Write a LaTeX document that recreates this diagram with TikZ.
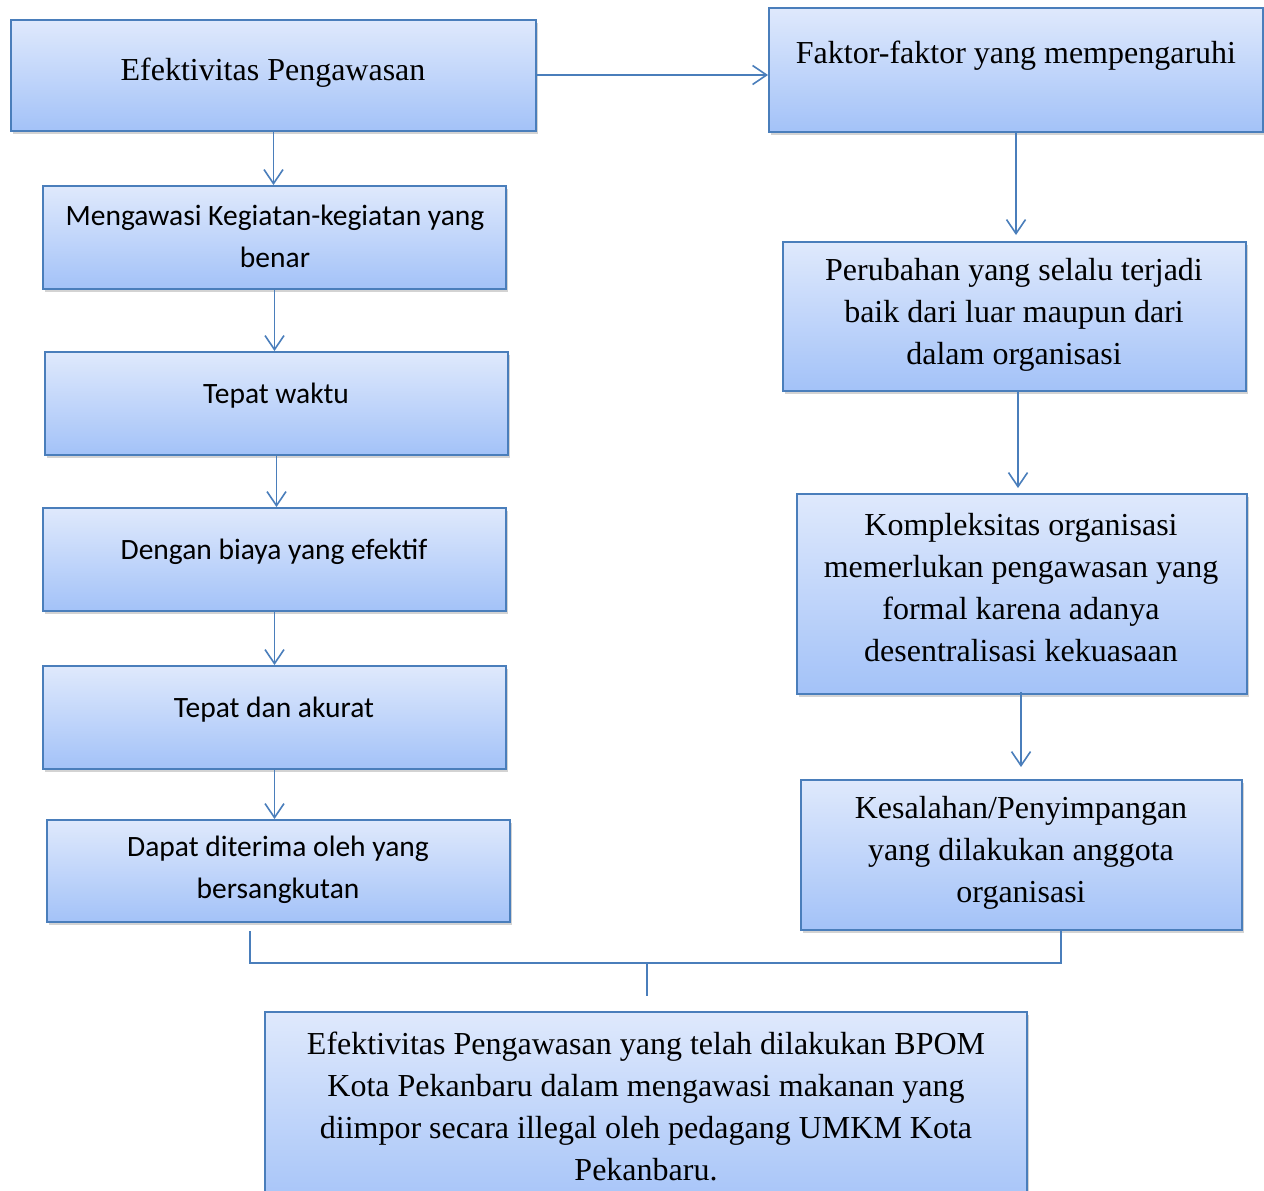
\documentclass[tikz,border=0pt]{standalone}
\usepackage{fontspec}
\setmainfont{Liberation Serif}
\newfontfamily\calibri{Carlito}
\usetikzlibrary{arrows.meta,shadows,calc}
\definecolor{edge}{HTML}{4A7EBB}
\definecolor{gtop}{HTML}{DFE9FC}
\definecolor{gbot}{HTML}{A3C2F8}
\tikzset{
  box/.style={draw=edge, line width=2pt, top color=gtop, bottom color=gbot, shading angle=0,
    rectangle, inner sep=0pt,
    drop shadow={shadow xshift=2pt, shadow yshift=-3pt, opacity=0.35, fill=gray}},
  serif/.style={font=\fontsize{32}{42}\selectfont, align=center, inner sep=0pt},
  sans/.style={font=\calibri\fontsize{29.5}{42}\selectfont, align=center, inner sep=0pt},
  link/.style={draw=edge, line width=1.6pt},
  arr/.style={link, -{Straight Barb[length=14pt,width=19pt,line width=1.6pt]}},
}
\newcommand{\mkbox}[5]{% name, x1,y1,x2,y2
  \node[box, minimum width={#4-#2}, minimum height={#5-#3}] (#1) at ({(#2+#4)/2},{(#3+#5)/2}) {};}
\begin{document}
\begin{tikzpicture}[x=1pt,y=-1pt]
\useasboundingbox (0,0) rectangle (1264,1191);
% boxes
\mkbox{A}{11}{20}{536}{131}
\mkbox{B}{769}{8}{1263}{132}
\mkbox{L1}{43}{186}{506}{289}
\mkbox{L2}{45}{352}{508}{455}
\mkbox{L3}{43}{508}{506}{611}
\mkbox{L4}{43}{666}{506}{769}
\mkbox{L5}{47}{820}{510}{922}
\mkbox{R1}{783}{242}{1246}{391}
\mkbox{R2}{797}{494}{1247}{694}
\mkbox{R3}{801}{780}{1242}{930}
\mkbox{F}{265}{1012}{1027}{1215}
% texts
\node[serif] (tA) at (273,73) {Efektivitas Pengawasan};
\node[serif] (tB) at (1016,56) {Faktor-faktor yang mempengaruhi};
\node[sans] (t1) at (275,236) {Mengawasi Kegiatan-kegiatan yang\\benar};
\node[sans] (t2) at (276,396) {Tepat waktu};
\node[sans] (t3) at (274,552) {Dengan biaya yang efektif};
\node[sans] (t4) at (274,710) {Tepat dan akurat};
\node[sans] (t5) at (278,870) {Dapat diterima oleh yang\\bersangkutan};
\node[serif] (r1) at (1014,315) {Perubahan yang selalu terjadi\\baik dari luar maupun dari\\dalam organisasi};
\node[serif] (r2) at (1021,588) {Kompleksitas organisasi\\memerlukan pengawasan yang\\formal karena adanya\\desentralisasi kekuasaan};
\node[serif] (r3) at (1021,853) {Kesalahan/Penyimpangan\\yang dilakukan anggota\\organisasi};
\node[serif] (tF) at (646,1106) {Efektivitas Pengawasan yang telah dilakukan BPOM\\Kota Pekanbaru dalam mengawasi makanan yang\\diimpor secara illegal oleh pedagang UMKM Kota\\Pekanbaru.};
% connectors
\coordinate (bs) at (B.south);
\coordinate (r1s) at ($(R1.south)+(3.5,0)$);
\coordinate (r2s) at ($(R2.south)+(-1,-3)$);
\coordinate (r1n) at ($(bs |- R1.north)+(0,-6)$);
\coordinate (r2n) at ($(r1s |- R2.north)+(0,-5)$);
\coordinate (r3n) at ($(r2s |- R3.north)+(0,-12)$);
\draw[arr] (A.east |- 0,75) -- (B.west |- 0,75);
\draw[arr] (A.south) -- (A.south |- L1.north);
\draw[arr] (L1.south) -- (L1.south |- L2.north);
\draw[arr] (L2.south) -- (L2.south |- L3.north);
\draw[arr] (L3.south) -- (L3.south |- L4.north);
\draw[arr] (L4.south) -- (L4.south |- L5.north);
\draw[arr] (bs) -- (r1n);
\draw[arr] (r1s) -- (r2n);
\draw[arr] (r2s) -- (r3n);
\coordinate (j) at (647,963);
\coordinate (ls) at ($(L5.south)+(-28.5,8)$);
\coordinate (rs) at ($(R3.south)+(39.5,0)$);
\coordinate (fj) at ($(F.north)+(1,-15)$);
\draw[link] (ls) |- (j) -| (rs);
\draw[link] (j) -- (fj);
\end{tikzpicture}
\end{document}
